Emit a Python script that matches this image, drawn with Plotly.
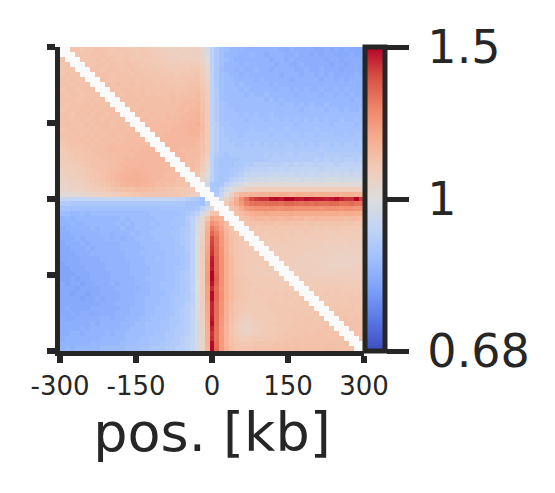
import plotly.graph_objects as go

N = None
# contact enrichment, in hundredths, rows top to bottom
enrichment = [
[N,N,112,112,111,112,112,113,112,112, 111,112,111,111,110,110,111,110,109,109, 108,108,107,108,107,107,108,108,104,98, 93,90,88,87,86,86,86,85,85,85, 85,85,85,85,84,84,85,84,84,84, 84,83,83,84,83,84,83,84,83,83, 83],
[112,N,N,112,112,112,113,112,113,112, 112,112,111,112,111,110,111,111,110,109, 109,108,108,107,108,108,107,108,104,99, 93,90,88,86,86,86,85,85,86,85, 85,84,85,85,85,84,84,85,84,84, 83,84,83,84,84,83,83,83,84,83, 83],
[113,112,N,N,112,112,112,113,112,113, 112,111,112,112,111,111,111,110,110,110, 109,109,108,109,108,108,108,108,105,100, 93,90,88,87,86,85,85,85,85,85, 85,85,84,85,85,84,85,84,84,84, 84,84,84,83,84,84,83,84,84,84, 84],
[112,113,112,N,N,113,112,113,113,112, 113,112,112,113,112,112,111,111,111,110, 110,109,109,110,109,109,110,110,106,102, 93,90,88,86,86,86,85,86,85,85, 85,85,85,84,85,85,84,84,85,84, 84,84,84,84,83,84,84,83,84,84, 84],
[112,112,113,112,N,N,113,113,112,113, 113,113,112,112,113,112,112,112,111,111, 111,110,110,110,110,110,111,111,107,104, 93,90,87,86,86,85,86,85,85,86, 85,85,84,85,85,85,85,84,84,85, 84,84,85,84,84,84,83,84,84,84, 84],
[112,113,112,113,113,N,N,113,113,113, 112,113,113,113,112,113,112,112,112,112, 111,111,111,110,111,111,111,112,108,105, 93,90,88,87,86,86,85,86,85,85, 85,85,85,85,84,85,85,85,84,85, 85,84,85,84,85,84,84,84,84,85, 84],
[113,112,113,112,113,113,N,N,114,113, 113,113,113,113,113,112,113,113,112,112, 112,112,112,111,111,112,112,113,109,106, 93,90,88,87,87,86,86,86,86,85, 86,85,85,85,85,85,84,85,85,85, 85,85,84,85,85,84,85,84,85,85, 85],
[113,113,112,113,113,113,114,N,N,114, 113,114,113,113,114,113,113,113,113,112, 113,112,112,112,112,113,113,113,110,107, 93,90,88,87,87,86,87,86,86,86, 86,86,85,86,85,85,85,85,85,85, 85,85,85,85,85,85,85,85,85,85, 85],
[112,113,113,112,113,113,113,114,N,N, 114,113,114,114,113,113,114,113,113,113, 113,113,113,113,113,113,114,114,111,108, 93,91,88,87,87,87,86,87,86,86, 86,86,86,85,86,86,85,86,85,86, 85,85,86,85,85,86,85,86,85,85, 85],
[113,112,113,113,112,113,113,113,114,N, N,114,113,114,114,113,114,113,114,113, 113,113,114,113,114,114,114,115,112,109, 93,91,88,87,87,87,87,86,87,86, 86,87,86,86,86,86,86,85,86,86, 86,86,85,86,86,85,86,85,86,85, 85],
[113,113,113,112,113,113,114,113,114,114, N,N,114,114,114,114,113,114,114,114, 114,113,114,114,114,115,115,115,112,109, 93,91,88,87,87,87,87,87,87,87, 87,86,87,86,87,86,86,86,86,86, 86,86,86,86,86,86,86,86,85,86, 86],
[113,112,113,113,113,114,113,114,113,114, 114,N,N,114,114,114,114,114,114,114, 114,114,114,114,115,115,115,116,113,109, 93,91,89,88,87,87,87,87,87,87, 87,87,87,87,86,87,87,86,87,86, 87,86,86,87,86,86,86,86,86,86, 86],
[112,113,113,113,114,113,114,113,114,114, 114,114,N,N,114,114,115,114,114,114, 114,114,114,115,115,115,116,116,113,110, 93,91,89,88,88,87,87,87,87,87, 87,87,87,87,87,87,87,87,86,87, 87,87,87,86,87,87,86,87,86,86, 87],
[113,113,112,114,113,114,113,114,114,113, 114,114,114,N,N,115,114,114,115,114, 114,115,114,115,115,116,116,117,114,110, 93,91,89,88,88,88,87,88,87,88, 87,87,88,87,87,87,87,87,87,87, 87,87,87,87,87,87,87,87,87,87, 87],
[113,113,113,113,114,113,114,114,113,114, 114,114,114,115,N,N,115,115,114,115, 114,115,115,115,116,116,117,117,114,110, 93,91,89,88,88,88,88,87,88,88, 88,87,88,88,87,88,87,88,87,88, 87,88,87,88,87,87,88,87,87,88, 87],
[113,114,113,113,113,114,113,114,114,114, 113,114,114,114,115,N,N,115,115,115, 115,115,115,116,116,117,117,118,115,110, 93,92,89,89,88,88,88,88,88,88, 88,88,88,88,88,88,88,87,88,88, 88,88,88,88,87,88,88,88,88,87, 88],
[112,113,114,113,113,113,114,113,114,114, 114,114,115,114,115,115,N,N,115,115, 115,115,116,116,116,117,118,117,115,110, 94,92,90,89,89,88,88,88,89,88, 88,88,89,88,88,89,88,88,88,88, 88,89,88,88,88,88,88,88,88,88, 88],
[113,113,113,114,113,114,113,114,113,114, 115,114,114,115,114,115,115,N,N,116, 115,116,116,116,116,117,117,117,114,110, 94,92,90,89,89,89,88,89,89,89, 89,89,88,89,89,88,89,89,88,89, 89,88,89,89,89,88,88,89,88,89, 89],
[112,113,113,113,114,113,114,113,114,114, 114,115,114,115,115,115,115,116,N,N, 116,116,116,116,116,116,116,116,114,110, 94,92,90,90,89,89,89,89,89,89, 89,89,89,89,89,89,89,89,89,89, 89,89,89,89,89,89,89,89,89,89, 89],
[111,112,113,113,113,114,113,114,114,114, 115,114,115,115,115,115,115,115,116,N, N,116,116,116,116,116,116,115,113,110, 94,92,90,90,90,89,89,90,89,90, 89,90,89,90,89,90,90,89,90,89, 90,89,90,90,89,90,89,90,90,89, 90],
[110,111,112,112,113,113,114,114,114,115, 115,115,115,115,116,115,116,116,116,116, N,N,116,116,115,116,115,115,113,110, 94,92,90,90,90,90,90,90,90,90, 90,90,90,90,90,90,90,90,90,90, 90,90,91,90,90,90,90,90,90,90, 90],
[110,110,111,112,112,113,113,114,114,114, 115,115,115,115,115,116,116,116,116,116, 116,N,N,116,116,115,115,115,112,108, 93,91,90,89,90,90,90,90,90,90, 90,91,90,91,90,91,91,90,91,91, 91,91,90,91,91,91,91,91,91,91, 91],
[109,110,110,111,112,112,113,113,114,114, 114,115,115,116,116,116,116,116,116,116, 116,116,N,N,116,115,115,114,111,107, 93,90,89,89,89,89,90,90,90,90, 90,90,91,91,91,91,91,91,91,91, 91,92,91,92,91,92,91,92,92,91, 92],
[109,109,110,110,111,112,113,113,113,114, 114,115,116,116,116,116,117,116,116,116, 116,116,116,N,N,115,115,114,110,105, 93,90,89,89,89,90,90,91,91,92, 92,92,92,92,92,93,92,93,92,93, 93,92,93,93,93,92,93,93,93,93, 93],
[108,108,109,110,110,111,112,113,113,114, 115,115,116,117,117,117,117,116,116,116, 116,116,115,115,N,N,115,113,109,103, 93,90,89,89,90,90,91,92,93,93, 93,93,94,93,94,93,94,94,94,94, 94,94,93,94,94,94,94,94,93,94, 94],
[107,108,108,109,110,111,112,112,113,114, 115,116,117,117,118,118,117,117,116,116, 116,115,115,115,115,N,N,113,106,100, 93,90,89,89,90,91,92,94,95,95, 95,95,95,96,95,95,96,95,96,95, 96,95,96,96,95,96,95,96,95,96, 95],
[106,107,108,108,109,110,111,112,113,114, 115,116,117,118,118,118,118,117,116,116, 115,115,115,114,114,114,N,N,104,98, 93,90,89,90,92,93,94,96,97,97, 98,97,98,98,97,98,98,98,97,98, 98,98,97,98,98,98,97,98,98,98, 98],
[105,106,107,107,108,109,110,111,112,113, 114,115,116,117,117,118,117,117,116,115, 115,114,114,113,113,113,113,N,N,97, 90,89,90,93,95,97,98,100,101,101, 102,102,101,102,102,102,101,102,102,102, 102,102,101,102,102,102,102,102,101,102, 102],
[104,105,106,106,107,108,109,110,110,111, 112,113,113,114,114,115,115,114,114,113, 113,112,112,111,111,110,110,109,N,N, 90,90,93,97,100,103,105,107,108,108, 109,109,108,109,109,109,108,109,109,109, 108,109,109,109,108,109,109,108,109,109, 108],
[102,102,103,103,104,105,105,106,107,107, 108,109,110,110,111,111,112,112,112,112, 112,112,112,112,111,110,108,106,103,N, N,91,95,100,107,113,116,117,118,118, 118,118,119,118,119,119,118,119,119,118, 119,118,119,119,118,119,118,119,119,118, 118],
[95,95,95,94,94,94,94,94,94,94, 94,94,94,94,94,94,94,94,94,94, 94,94,94,93,93,92,91,90,88,87, N,N,97,105,112,118,127,133,141,143, 144,144,148,149,147,150,150,148,147,149, 148,147,147,146,147,149,146,144,144,150, 142],
[91,91,90,90,90,90,90,90,90,90, 90,90,90,90,90,90,90,90,90,90, 90,90,90,90,90,89,89,89,88,92, 97,N,N,110,115,120,125,131,133,134, 134,134,135,135,134,136,136,135,134,135, 134,135,134,134,135,135,133,134,135,133, 133],
[89,89,88,88,88,88,88,88,88,88, 88,88,88,88,88,88,88,88,88,88, 89,89,89,89,89,89,89,90,93,97, 102,104,N,N,112,115,120,124,126,127, 127,127,128,127,127,128,128,127,127,127, 127,127,126,127,127,127,126,127,127,126, 126],
[87,87,86,86,87,86,87,87,87,87, 87,87,87,87,87,87,87,87,88,88, 88,88,88,88,89,90,91,93,98,104, 112,112,112,N,N,113,115,117,119,120, 120,121,120,120,120,120,121,120,120,120, 120,120,120,119,120,120,119,120,120,119, 119],
[85,86,85,86,86,86,86,86,86,86, 86,86,87,86,87,87,87,87,87,88, 88,88,88,89,89,91,93,97,103,112, 122,120,118,112,N,N,113,114,115,116, 116,115,116,116,115,116,116,115,116,115, 115,116,115,115,115,115,115,114,115,115, 114],
[85,85,86,85,85,86,86,86,86,86, 86,87,86,87,86,87,87,87,88,87, 88,88,89,89,89,90,93,98,105,116, 127,124,120,114,111,N,N,112,113,113, 113,113,113,112,113,113,112,113,112,112, 113,112,112,112,112,112,112,112,112,111, 112],
[84,85,85,85,85,85,86,85,86,86, 86,86,87,86,86,87,87,87,87,88, 88,88,88,89,90,91,93,98,106,118, 132,128,122,115,112,111,N,N,111,111, 112,111,111,112,111,111,111,111,111,111, 111,110,111,110,111,111,110,110,110,110, 110],
[84,84,85,85,85,85,85,85,86,86, 85,86,86,86,87,86,87,87,88,88, 88,88,89,89,90,91,93,98,107,119, 136,131,124,117,113,112,111,N,N,111, 111,110,111,111,111,110,111,110,110,111, 110,110,110,110,109,110,110,109,110,109, 109],
[84,84,84,85,84,85,85,85,85,86, 85,86,85,86,86,87,87,87,87,88, 88,88,88,89,90,91,93,99,108,120, 141,133,125,118,114,112,111,111,N,N, 110,110,110,110,111,110,110,110,110,109, 110,109,110,109,109,109,109,109,109,109, 109],
[83,84,84,84,85,84,85,85,85,85, 85,85,86,86,86,86,87,87,87,87, 88,88,88,89,90,91,93,99,108,120, 142,133,125,118,114,112,111,110,110,N, N,110,109,110,110,110,110,109,110,109, 109,109,109,108,109,109,108,108,109,108, 108],
[83,83,84,84,84,85,84,85,85,85, 85,85,86,86,86,86,86,87,87,87, 88,88,88,89,89,91,93,100,109,121, 143,134,126,118,114,112,111,110,110,110, N,N,110,109,109,109,110,109,109,109, 109,108,108,108,108,108,108,107,108,108, 108],
[83,83,83,84,84,84,85,85,85,85, 85,85,85,86,86,86,87,87,87,87, 87,88,88,89,89,90,93,100,109,122, 144,134,126,119,114,112,111,110,110,110, 110,N,N,109,109,109,109,109,109,108, 108,108,108,108,107,107,107,107,107,108, 107],
[83,83,83,83,84,84,84,84,85,85, 85,85,85,86,86,86,86,87,87,88, 87,88,88,88,89,90,93,100,109,122, 147,135,127,119,115,112,111,110,110,110, 110,110,N,N,109,109,109,109,108,108, 108,108,107,107,107,107,106,106,107,107, 107],
[82,83,83,83,84,84,84,84,84,85, 85,85,85,85,86,86,86,87,87,87, 87,88,88,88,89,90,93,100,109,123, 148,135,127,119,115,112,111,110,110,110, 110,110,109,N,N,109,109,108,108,108, 108,107,107,107,106,106,106,106,106,107, 107],
[82,82,83,83,83,84,84,84,84,85, 85,85,85,85,86,86,86,86,87,87, 87,88,88,89,89,90,93,100,109,123, 147,135,127,119,115,112,111,110,110,109, 109,110,109,109,N,N,109,108,108,108, 108,108,108,107,107,107,107,107,107,108, 108],
[82,82,82,83,83,83,84,84,84,84, 85,85,85,85,86,86,86,86,87,87, 87,88,88,89,90,91,93,100,109,124, 150,136,127,119,115,112,111,110,110,110, 109,109,109,109,109,N,N,109,109,109, 108,108,108,108,108,108,108,108,108,108, 108],
[82,82,83,82,83,83,84,84,84,84, 85,85,85,85,85,86,86,87,87,87, 87,88,88,89,90,91,93,100,109,124, 150,137,127,119,115,113,111,111,110,110, 110,110,110,109,109,109,N,N,109,109, 109,109,109,109,109,109,108,109,108,109, 108],
[83,82,83,83,82,83,83,84,84,84, 85,84,85,85,85,86,86,86,87,87, 88,88,88,89,90,91,93,100,109,123, 148,136,127,119,115,113,112,111,111,110, 110,110,110,110,110,110,109,N,N,110, 109,110,110,109,110,109,110,109,110,109, 110],
[83,83,83,82,83,83,83,83,84,84, 84,85,85,85,85,85,86,86,87,87, 88,88,88,89,90,91,94,100,109,122, 145,134,126,119,115,113,112,111,110,111, 110,110,110,110,110,110,110,110,N,N, 110,110,110,110,110,110,110,110,110,110, 110],
[83,83,82,83,83,82,83,83,84,84, 84,84,85,85,85,86,86,86,87,87, 87,88,89,89,90,91,93,100,109,122, 149,135,127,119,115,113,112,111,110,110, 111,110,110,111,110,111,110,111,110,N, N,111,110,111,110,111,110,111,111,110, 111],
[83,83,83,83,82,83,83,84,83,84, 84,84,85,85,85,86,86,87,87,87, 88,88,89,90,90,91,93,99,108,122, 149,135,127,119,115,113,112,111,110,110, 110,110,111,110,110,111,111,110,111,111, N,N,111,110,111,111,111,111,111,111, 111],
[83,83,83,83,83,83,83,83,84,84, 84,85,85,85,85,86,86,87,87,87, 88,88,89,90,90,92,93,99,108,121, 146,134,126,118,114,112,111,110,110,110, 110,111,111,111,110,111,110,111,111,111, 111,N,N,111,111,111,111,111,112,111, 111],
[83,84,83,83,83,83,84,84,84,84, 84,84,85,85,86,86,86,87,87,88, 88,88,89,90,91,92,94,99,108,121, 146,134,126,118,114,112,111,110,110,110, 110,110,111,111,111,111,111,111,111,111, 112,111,N,N,111,112,111,112,112,111, 112],
[83,83,84,83,84,84,83,84,84,84, 84,85,85,85,86,86,86,87,87,88, 88,89,89,90,91,92,94,99,108,120, 146,134,126,118,114,112,110,109,109,110, 110,110,110,111,111,111,111,111,112,111, 111,112,111,N,N,112,112,112,112,112, 112],
[84,83,83,84,84,84,84,84,85,85, 84,85,85,86,86,86,87,87,88,88, 88,89,90,90,91,92,94,99,107,120, 147,134,125,118,113,111,109,108,108,109, 110,110,110,110,111,111,111,112,111,112, 112,111,112,112,N,N,112,113,112,113, 112],
[84,84,84,84,84,84,85,84,85,85, 85,85,86,86,86,87,87,88,88,88, 89,89,90,90,91,92,94,98,107,119, 149,134,125,117,113,110,108,107,108,109, 109,110,110,111,111,111,111,112,112,112, 112,112,112,112,113,N,N,113,113,113, 113],
[84,84,84,84,85,84,85,85,85,85, 85,85,86,86,87,87,87,88,88,88, 89,89,90,91,91,92,94,98,106,119, 146,133,124,117,112,110,107,106,107,108, 109,110,110,110,111,111,112,112,112,112, 112,112,112,113,112,113,N,N,113,113, 113],
[84,84,85,85,84,85,85,85,85,86, 85,86,86,87,87,87,87,88,88,89, 89,90,90,91,91,92,94,98,106,118, 144,133,124,117,112,110,108,107,108,109, 110,110,110,111,111,112,112,112,112,113, 112,113,113,112,113,113,113,N,N,113, 114],
[84,85,85,85,85,85,85,85,86,86, 86,86,86,87,87,87,88,88,89,89, 89,90,90,91,92,93,94,98,106,118, 145,133,124,117,113,111,109,109,110,110, 110,111,111,111,112,112,112,113,112,113, 113,113,113,113,113,113,113,113,N,N, 113],
[85,85,85,85,85,85,86,86,86,86, 86,86,87,87,87,88,88,88,89,89, 90,90,91,91,92,93,95,98,105,117, 149,134,124,117,113,112,111,111,111,112, 112,112,112,113,112,113,113,113,113,113, 113,113,113,113,114,113,113,114,113,N, N],
[85,86,85,86,86,86,86,86,87,87, 87,87,87,88,88,88,89,89,90,90, 90,91,91,92,92,93,95,98,105,116, 150,135,125,118,114,112,112,112,112,113, 113,113,113,113,113,114,113,114,113,114, 114,114,113,114,114,114,114,113,114,114, N],
]
masked_diagonals = [-1, 0, 1]
axis_ticks = [-300, -150, 0, 150, 300]
axis_labels = ["-300", "-150", "0", "150", "300"]
bar_ticks = [0.68, 1.0, 1.5]
bar_labels = ["\u20090.68", "\u20091", "\u20091.5"]
x_title = "pos. [kb]"

INK = "#262626"
FONT = "DejaVu Sans"
coolwarm = [[0.0, "#3b4cc0"], [0.1, "#5977e3"], [0.2, "#7b9ff9"], [0.3, "#9ebeff"],
            [0.4, "#c0d4f5"], [0.5, "#dddcdc"], [0.6, "#f2cbb7"], [0.7, "#f7ac8e"],
            [0.8, "#ee8468"], [0.9, "#d65244"], [1.0, "#b40426"]]

lo, mid, hi = bar_ticks
n_bins = len(enrichment)


def to_color_position(cell, r, c):
    if cell is None or (c - r) in masked_diagonals:
        return None
    ratio = cell / 100
    return (ratio - mid) / (hi - mid) if ratio >= mid else (ratio - mid) / (mid - lo)


for row in enrichment:
    assert len(row) == n_bins, len(row)
step = 600 / n_bins

fig = go.Figure(go.Heatmap(
    z=[[to_color_position(v, r, c) for c, v in enumerate(row)] for r, row in enumerate(enrichment)],
    x0=-300 + step / 2, dx=step, y0=-300 + step / 2, dy=step,
    colorscale=coolwarm, zmin=-1, zmax=1, hoverongaps=False,
    colorbar=dict(
        x=(364.5 - 60) / 304, xref="paper", xanchor="left", xpad=0, ypad=0,
        y=0.5, yref="paper", yanchor="middle",
        lenmode="pixels", len=304, thicknessmode="pixels", thickness=20,
        outlinewidth=5, outlinecolor=INK,
        tickmode="array", tickvals=[-1, 0, 1], ticktext=bar_labels,
        ticks="outside", ticklen=22, tickwidth=5, tickcolor=INK,
        tickfont=dict(family=FONT, size=46, color=INK),
    ),
))
fig.update_layout(
    width=555, height=493, autosize=False,
    margin=dict(l=52, r=199, t=39, b=150, pad=0),
    paper_bgcolor="white", plot_bgcolor="#fafafa",
    font=dict(family=FONT, color=INK),
)
fig.update_xaxes(
    range=[-300, 300], tickmode="array", tickvals=axis_ticks, ticktext=axis_labels,
    ticks="outside", ticklen=7, tickwidth=6, tickcolor=INK, tickangle=0,
    showline=True, linewidth=5, linecolor=INK, showgrid=False, zeroline=False,
    ticklabelstandoff=1,
    tickfont=dict(family=FONT, size=26, color=INK),
    title=dict(text=x_title, font=dict(family=FONT, size=54, color=INK), standoff=12),
)
fig.update_yaxes(
    range=[300, -300], tickmode="array", tickvals=axis_ticks, showticklabels=False,
    ticks="outside", ticklen=8, tickwidth=6, tickcolor=INK,
    showline=True, linewidth=5, linecolor=INK, showgrid=False, zeroline=False,
)
fig.write_html("out.html")
